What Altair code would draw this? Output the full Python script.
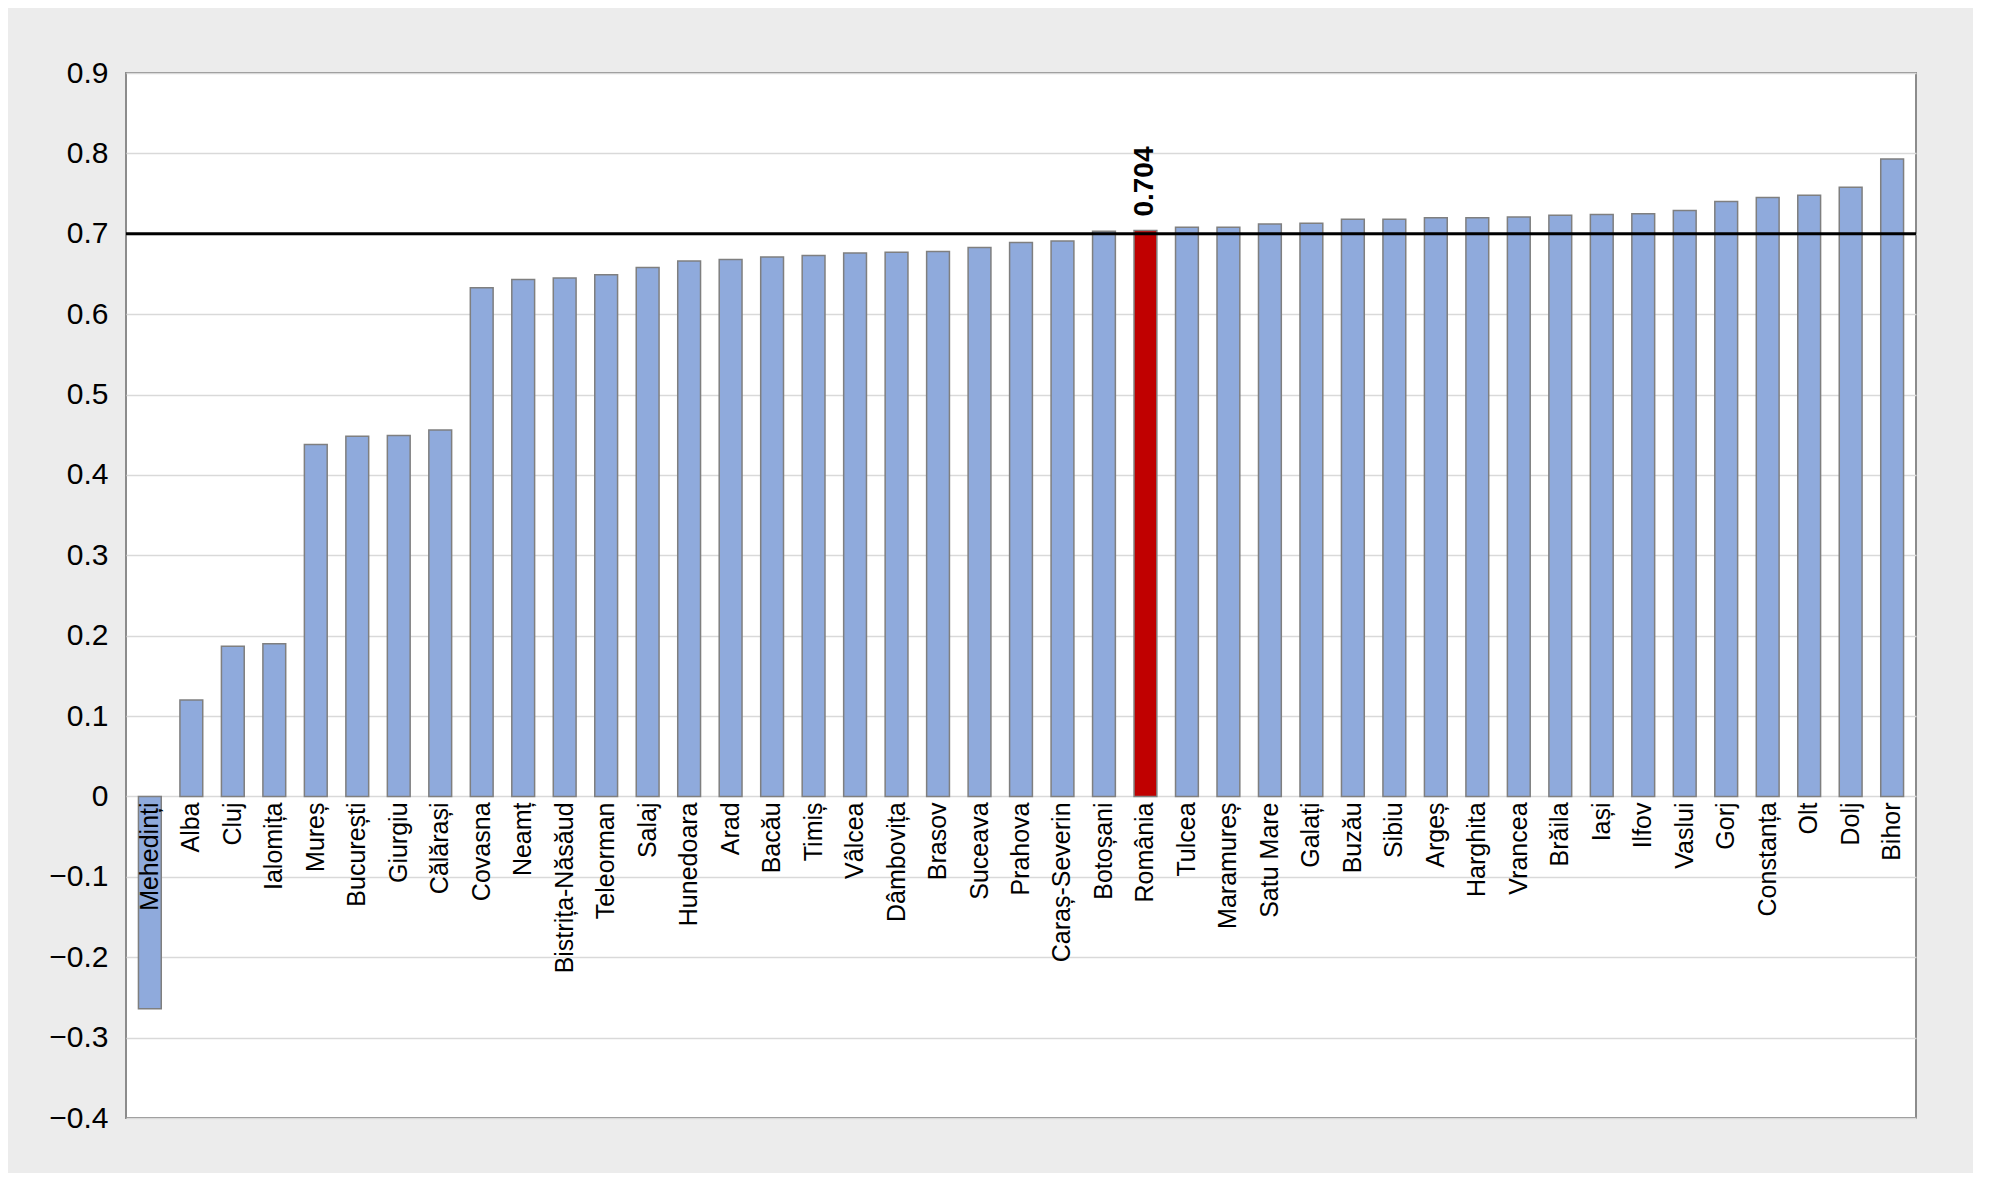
import altair as alt
import pandas as pd

counties = ["Mehedinți", "Alba", "Cluj", "Ialomița", "Mureș", "București", "Giurgiu", "Călărași",
            "Covasna", "Neamț", "Bistrița-Năsăud", "Teleorman", "Salaj", "Hunedoara", "Arad", "Bacău",
            "Timiș", "Vâlcea", "Dâmbovița", "Brasov", "Suceava", "Prahova", "Caraș-Severin", "Botoșani",
            "România", "Tulcea", "Maramureș", "Satu Mare", "Galați", "Buzău", "Sibiu", "Argeș",
            "Harghita", "Vrancea", "Brăila", "Iași", "Ilfov", "Vaslui", "Gorj", "Constanța", "Olt",
            "Dolj", "Bihor"]
values = [-0.264, 0.12, 0.187, 0.19, 0.438, 0.448, 0.449, 0.456,
          0.633, 0.643, 0.645, 0.649, 0.658, 0.666, 0.668, 0.671,
          0.673, 0.676, 0.677, 0.678, 0.683, 0.689, 0.691, 0.703,
          0.704, 0.708, 0.708, 0.712, 0.713, 0.718, 0.718, 0.720,
          0.720, 0.721, 0.723, 0.724, 0.725, 0.729, 0.740, 0.745, 0.748,
          0.758, 0.793]
threshold = 0.7

df = pd.DataFrame({"county": counties, "value": values})
df["is_ro"] = df["county"] == "România"

x = alt.X("county:N", sort=counties, axis=None, scale=alt.Scale(paddingInner=0.45, paddingOuter=0.3))
y_scale = alt.Scale(domain=[-0.4, 0.9], nice=False)

bars = alt.Chart(df).mark_bar(stroke="#7f7f7f", strokeWidth=1.5).encode(
    x=x,
    y=alt.Y("value:Q", scale=y_scale,
            axis=alt.Axis(values=[round(-0.4 + 0.1 * i, 1) for i in range(14)], title=None,
                          labelExpr="datum.value == 0 ? '0' : format(datum.value, '.1f')",
                          labelFontSize=30, labelFont="Liberation Sans", labelColor="black",
                          domain=False, ticks=False, labelPadding=18,
                          gridColor="#d9d9d9", gridWidth=1.5)),
    color=alt.condition("datum.is_ro", alt.value("#c00000"), alt.value("#8faadc")),
)

labels = alt.Chart(df).mark_text(angle=270, align="right", baseline="middle", dx=-6,
                                 fontSize=25, font="Liberation Sans", color="black").encode(
    x=x,
    y=alt.datum(0, scale=y_scale),
    text="county:N",
)

rule = alt.Chart(pd.DataFrame({"v": [threshold]})).mark_rule(color="black", strokeWidth=3).encode(
    y=alt.Y("v:Q", scale=y_scale)
)

note = alt.Chart(df[df["is_ro"]]).mark_text(angle=270, align="left", baseline="middle", dx=14,
                                            fontSize=28, fontWeight="bold", font="Liberation Sans",
                                            color="black").encode(
    x=x,
    y=alt.Y("value:Q", scale=y_scale),
    text=alt.Text("value:Q", format=".3f"),
)

chart = alt.layer(bars, rule, labels, note).properties(
    width=1790, height=1045, background="#ececec",
    padding={"left": 40, "top": 50, "right": 55, "bottom": 40},
).configure_view(fill="white", stroke="#8c8c8c", strokeWidth=2)

chart.save("out.html", embed_options={"renderer": "svg", "actions": False})
